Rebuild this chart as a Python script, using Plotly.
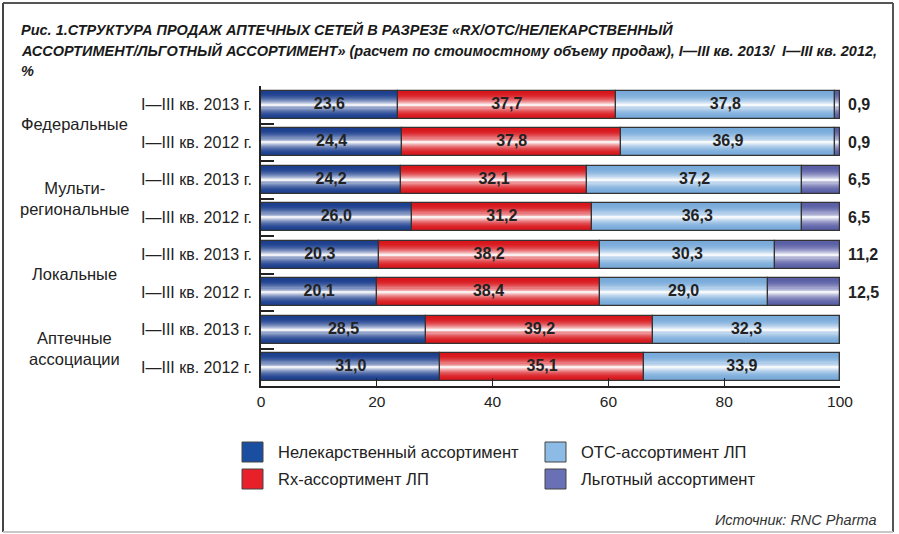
import plotly.graph_objects as go

# ---------------- data ----------------
groups = ["Федеральные", "Мульти-<br>региональные", "Локальные", "Аптечные<br>ассоциации"]
periods = ["I—III кв. 2013 г.", "I—III кв. 2012 г.",
           "I—III кв. 2013 г.", "I—III кв. 2012 г.",
           "I—III кв. 2013 г.", "I—III кв. 2012 г.",
           "I—III кв. 2013 г.", "I—III кв. 2012 г."]
series_names = ["Нелекарственный ассортимент", "Rx-ассортимент ЛП",
                "ОТС-ассортимент ЛП", "Льготный ассортимент"]
nonmed = [23.6, 24.4, 24.2, 26.0, 20.3, 20.1, 28.5, 31.0]
rx = [37.7, 37.8, 32.1, 31.2, 38.2, 38.4, 39.2, 35.1]
otc = [37.8, 36.9, 37.2, 36.3, 30.3, 29.0, 32.3, 33.9]
benefit = [0.9, 0.9, 6.5, 6.5, 11.2, 12.5, 0.0, 0.0]
x_ticks = [0, 20, 40, 60, 80, 100]

series_values = [nonmed, rx, otc, benefit]
# bar edge colours (gradient goes toward white at bar centre)
edge_colors = [(0x1b, 0x3e, 0x8e), (0xd8, 0x16, 0x1c), (0x78, 0xaa, 0xda), (0x5a, 0x5f, 0xa6)]
legend_colors = ["#1a4ea0", "#e8202a", "#8cbbe5", "#6a70b5"]

W, H = 899, 534
L, R, T, B = 261, 840, 86, 386
def px(x):
    return (x - L) / (R - L)
def py(y):
    return (B - y) / (B - T)

rows = list(range(len(periods)))
fmt = lambda v: f"{v:.1f}".replace(".", ",")
FONT = "Liberation Sans, Arial"

def mix(c, t):
    r, g, b = (int(round(ci + (255 - ci) * t)) for ci in c)
    return f"rgb({r},{g},{b})"

fig = go.Figure()

# cumulative bases
bases = []
acc = [0.0] * len(rows)
for vals in series_values:
    bases.append(list(acc))
    acc = [a + v for a, v in zip(acc, vals)]

NL = 14
BW = 0.75
for vals, base, ec in zip(series_values, bases, edge_colors):
    for k in range(NL):
        s = k / (NL - 1)                 # 0 edge -> 1 centre
        w = BW * (1 - s) + 0.035 * s
        t = 0.93 * s ** 2.2
        fig.add_trace(go.Bar(
            x=vals, y=rows, base=base, orientation="h", width=w,
            marker=dict(color=mix(ec, t), line=dict(width=0)),
            showlegend=False, hoverinfo="skip"))
# outlines
for vals, base in zip(series_values, bases):
    fig.add_trace(go.Bar(
        x=vals, y=rows, base=base, orientation="h", width=BW,
        marker=dict(color="rgba(0,0,0,0)", line=dict(width=1.2, color="#333333")),
        showlegend=False, hoverinfo="skip"))

# value labels inside (first three series)
for vals, base in zip(series_values[:3], bases[:3]):
    fig.add_trace(go.Scatter(
        x=[b + v / 2 for b, v in zip(base, vals)], y=rows, mode="text",
        text=[fmt(v) for v in vals],
        textfont=dict(family=FONT, size=16, color="#222222"),
        texttemplate="<b>%{text}</b>",
        showlegend=False, hoverinfo="skip"))

annotations = []
# labels for the benefit series, outside right
for r, v in zip(rows, benefit):
    if v > 0:
        annotations.append(dict(
            x=100, y=r, xref="x", yref="y", text=f"<b>{fmt(v)}</b>",
            xanchor="left", xshift=6, showarrow=False,
            font=dict(family=FONT, size=16, color="#222222")))

# period labels
for r, p in zip(rows, periods):
    annotations.append(dict(
        x=px(254), y=r, xref="paper", yref="y", text=p, xanchor="right",
        showarrow=False,
        font=dict(family=FONT, size=16, color="#222222")))

# group labels
for gi, g in enumerate(groups):
    annotations.append(dict(
        x=px(74), y=2 * gi + 0.5, xref="paper", yref="y", text=g,
        xanchor="center", showarrow=False, align="center",
        font=dict(family=FONT, size=16.5, color="#222222")))

# title
tfont = dict(family="Liberation Sans Narrow, Arial Narrow, Liberation Sans", size=14.5, color="#1a1a1a")
title_lines = [
    "<b><i>Рис. 1.СТРУКТУРА ПРОДАЖ АПТЕЧНЫХ СЕТЕЙ В РАЗРЕЗЕ «RX/OTC/НЕЛЕКАРСТВЕННЫЙ</i></b>",
    "<b><i>АССОРТИМЕНТ/ЛЬГОТНЫЙ АССОРТИМЕНТ» (расчет по стоимостному объему продаж), I—III кв. 2013/  I—III кв. 2012,</i></b>",
    "<b><i>%</i></b>",
]
for line, yy in zip(title_lines, [29, 51, 71]):
    annotations.append(dict(
        x=px(19), y=py(yy), xref="paper", yref="paper", text=line,
        xanchor="left", yanchor="middle", showarrow=False, font=tfont))

# legend (manual)
shapes = []
legend_pos = [(242, 452), (242, 479), (545, 452), (545, 479)]
for name, col, (lx, ly) in zip(series_names, legend_colors, legend_pos):
    shapes.append(dict(type="rect", xref="paper", yref="paper",
                       x0=px(lx), x1=px(lx + 21), y0=py(ly - 10), y1=py(ly + 10),
                       fillcolor=col, line=dict(color="#444444", width=1)))
    annotations.append(dict(
        x=px(lx + 34), y=py(ly), xref="paper", yref="paper", text=name,
        xanchor="left", yanchor="middle", showarrow=False,
        font=dict(family=FONT, size=16.5, color="#222222")))

# source
annotations.append(dict(
    x=px(879), y=py(520), xref="paper", yref="paper", text="<i>Источник: RNC Pharma</i>",
    xanchor="right", yanchor="middle", showarrow=False,
    font=dict(family=FONT, size=14.5, color="#333333")))

# frame
for (x0, y0, x1, y1, c) in [(3, 3, 893, 3, "#555555"), (3, 3, 3, 532, "#444444"),
                             (893, 3, 893, 532, "#555555"), (3, 532, 893, 532, "#c8c8c8")]:
    shapes.append(dict(type="line", xref="paper", yref="paper",
                       x0=px(x0), x1=px(x1), y0=py(y0), y1=py(y1),
                       line=dict(color=c, width=2)))

fig.update_layout(
    width=W, height=H,
    margin=dict(l=L, r=W - R, t=T, b=H - B),
    barmode="overlay", bargap=0,
    paper_bgcolor="white", plot_bgcolor="white",
    showlegend=False,
    annotations=annotations, shapes=shapes,
    xaxis=dict(range=[0, 100], tickvals=x_ticks, ticks="inside", ticklen=8,
               tickwidth=1.2, tickcolor="#222222",
               showgrid=False, zeroline=False, showline=True, linecolor="#222222",
               linewidth=2, tickfont=dict(family=FONT, size=15.5, color="#222222"),
               fixedrange=True),
    yaxis=dict(range=[7.5, -0.5], tickvals=[r - 0.5 for r in rows], showticklabels=False,
               ticks="inside", ticklen=13, tickwidth=1.5, tickcolor="#222222",
               showgrid=False, zeroline=False, showline=True, linecolor="#222222",
               linewidth=2, fixedrange=True),
)

fig.write_html("out.html", config={"displayModeBar": False},
               post_script="document.body.style.margin='0';document.body.style.overflow='hidden';")
